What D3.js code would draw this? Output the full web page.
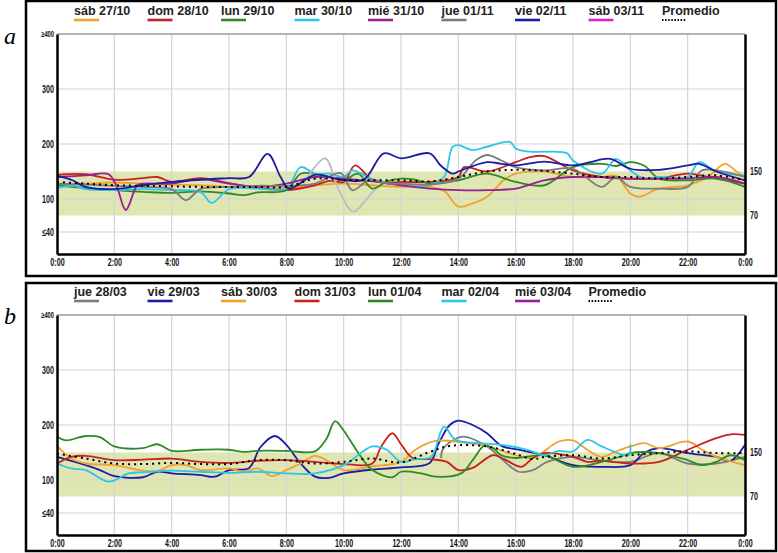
<!DOCTYPE html>
<html><head><meta charset="utf-8">
<script src="https://cdn.jsdelivr.net/npm/d3@7"></script>
<style>
body{margin:0;background:#fff;}
svg{display:block;}
.ax text{font-family:"Liberation Sans",Arial,sans-serif;font-weight:bold;font-size:10.5px;fill:#111;}
.leg{font-family:Arial,"Liberation Sans",sans-serif;font-weight:bold;font-size:12.5px;fill:#222;}
</style></head>
<body>
<svg id="c" width="778" height="553"></svg>
<script>
// ---------- shared axis data ----------
const hourTicks = [0,2,4,6,8,10,12,14,16,18,20,22,24];
const hourLabels = ["0:00","2:00","4:00","6:00","8:00","10:00","12:00","14:00","16:00","18:00","20:00","22:00","0:00"];
const yTicks = [400,300,200,100,40];
const yLabels = ["≥400","300","200","100","≤40"];
const targetRange = [70,150];

// ---------- panel a series ([hour, mg/dL]) ----------
const aNames = ["sáb 27/10","dom 28/10","lun 29/10","mar 30/10","mié 31/10","jue 01/11","vie 02/11","sáb 03/11","Promedio"];
const aColors = ["#f2a12e","#c92020","#2f8a26","#2cc6ea","#961f96","#7c7c7c","#1b1ba6","#de20cf","#000"];
const a_sab2710 = [[0,125],[1,128],[2,130],[3,128],[4,126],[5,125],[6,122],[7,120],[8,120],[9,125],[10,128],[11,125],[12,122],[13,122],[13.5,115],[14,86],[14.5,92],[15,104],[15.6,135],[16,146],[17,150],[18,140],[19,140],[19.5,142],[20,110],[20.3,104],[21,119],[22,125],[22.7,140],[23.3,164],[23.7,150],[24,140]];
const a_dom2810 = [[0,144],[1,145],[2,135],[3,138],[3.5,140],[4,131],[5,138],[6,129],[7,120],[8,116],[9,125],[9.5,133],[10,131],[10.4,161],[11,134],[11.5,130],[12,131],[13,131],[14,140],[14.2,158],[15,150],[16,167],[16.5,176],[17,178],[18,152],[19,140],[20,137],[21,137],[22,146],[23,137],[24,128]];
const a_lun2910 = [[0,125],[1,120],[2,116],[3,113],[4,111],[5,114],[6,110],[6.5,107],[7,112],[8,116],[8.5,146],[9,146],[9.5,140],[10,134],[10.5,146],[11,119],[11.5,132],[12,137],[12.5,135],[13,128],[14,134],[15,146],[16,131],[17,125],[18,158],[19,164],[19.5,160],[20,167],[20.5,160],[21,137],[22,134],[23,137],[24,122]];
const a_mar3010 = [[0,120],[0.6,124],[1,118],[2,116],[3,118],[4,116],[5,113],[5.4,93],[6,118],[7,119],[8,119],[8.5,158],[9,146],[9.5,146],[10,140],[10.3,152],[11,136],[12,125],[13,125],[13.5,140],[13.8,195],[14,198],[14.5,189],[15,195],[15.8,204],[16,192],[16.5,186],[17,186],[17.8,183],[18,170],[19,146],[19.5,173],[20,152],[20.5,137],[21,140],[22,140],[22.4,167],[23,150],[24,143]];
const a_mie3110 = [[0,140],[1,143],[1.8,145],[2.1,120],[2.4,80],[2.8,125],[3,128],[4,128],[5,136],[6,128],[7,122],[8,128],[9,140],[10,137],[11,132],[12,125],[13,119],[14,116],[15,116],[16,119],[17,134],[18,140],[19,140],[20,137],[21,137],[22,137],[23,140],[24,128]];
const a_jue0111 = [[0,128],[1,126],[2,124],[3,122],[4,118],[4.5,98],[5,118],[6,122],[7,124],[8,124],[9,128],[9.9,147],[10.3,116],[10.9,135],[11.5,128],[12,128],[13,126],[14,137],[14.6,170],[15,180],[15.5,170],[16,158],[17,152],[18,155],[19,122],[19.5,140],[20,122],[21,119],[22,122],[22.5,152],[23,152],[24,140]];
const a_jue0111Gap = [[8.6,128],[9.35,174],[9.8,120],[10.33,77],[10.8,100],[11.1,118]];
const a_vie0211 = [[0,142],[0.5,135],[1,122],[2,118],[3,125],[4,131],[5,135],[6,138],[6.7,140],[7.35,182],[7.8,140],[8.1,119],[9,144],[9.9,135],[10.7,135],[11.4,183],[12,174],[13,183],[13.4,160],[13.8,146],[14,150],[15,167],[15.5,164],[16,161],[17,168],[18,161],[18.6,167],[19.3,173],[20,155],[21,153],[22,161],[22.4,164],[23,150],[24,134]];
const a_avg = [[0,131],[1,128],[2,125],[3,124],[4,123],[5,122],[6,122],[7,122],[8,122],[9,137],[10,135],[11,134],[12,134],[13,132],[14,140],[15,150],[16,153],[17,151],[18,146],[19,140],[20,140],[21,137],[22,140],[23,143],[24,134]];

// ---------- panel b series ----------
const bNames = ["jue 28/03","vie 29/03","sáb 30/03","dom 31/03","lun 01/04","mar 02/04","mié 03/04","Promedio"];
const bColors = ["#7c7c7c","#1b1ba6","#f2a12e","#c92020","#2f8a26","#2cc6ea","#961f96","#000"];
const b_jue2803 = [[13.4,140],[13.45,155],[13.8,172],[14.2,179],[15,161],[15.5,139],[16.1,115],[16.6,118],[17.1,133],[18,142],[19,135],[20,133],[21,149],[22,130],[23,130],[24,142]];
const b_vie2903 = [[0,142],[1,127],[1.5,118],[2,107],[3,105],[3.5,115],[4,112],[5,109],[5.5,106],[6,118],[6.7,122],[7.1,160],[7.6,180],[8,164],[8.5,130],[9,106],[9.5,104],[10,112],[11,119],[12,123],[13,131],[13.3,165],[13.7,200],[14,208],[14.5,200],[15,185],[15.5,162],[16,156],[17,145],[18,127],[19,124],[20,127],[20.5,150],[21,158],[22,149],[23,142],[23.5,135],[24,164]];
const b_sab3003 = [[0,162],[0.5,139],[1,130],[2,127],[3,117],[3.5,116],[4,127],[4.5,127],[5,118],[6,121],[6.5,115],[7,121],[7.5,107],[8,118],[8.5,130],[9,144],[9.5,133],[10,118],[11,125],[12,133],[12.5,155],[13.2,171],[14.2,168],[15,162],[16,145],[16.6,140],[17.5,170],[18,172],[18.5,155],[19,142],[19.5,152],[20,161],[20.5,167],[21,158],[22,170],[22.5,155],[23,142],[24,127]];
const b_dom3103 = [[0,130],[0.5,142],[1,144],[2,136],[3,137],[4,139],[5,133],[6,131],[7,135],[8,136],[9,133],[10,129],[11,130],[11.3,160],[11.7,185],[12,165],[12.4,140],[13,138],[13.6,133],[14,118],[14.5,122],[15.2,145],[15.6,138],[16.2,124],[16.6,140],[17,149],[18,142],[18.5,133],[19,135],[20,130],[21,133],[22,155],[23,176],[23.5,183],[24,182]];
const b_lun0104 = [[0,179],[0.3,172],[1,180],[1.5,178],[2,161],[3,158],[3.5,165],[4,153],[5,155],[6,155],[6.5,151],[7,153],[8,153],[9,152],[9.4,175],[9.7,207],[10,190],[10.5,150],[11,118],[11.7,105],[12,115],[12.7,112],[13.2,106],[14.1,112],[14.5,136],[14.9,162],[15.2,158],[15.5,145],[16,140],[17,145],[18,124],[19,133],[19.8,145],[20,149],[21,149],[22,136],[22.5,127],[23,133],[23.5,145],[24,136]];
const b_mar0204 = [[0,130],[0.5,121],[1,118],[1.8,97],[2.5,112],[3,114],[4,117],[5,115],[6,113],[7,115],[8,112],[9,112],[10,127],[11,161],[11.5,155],[12,133],[12.5,138],[13.05,142],[13.5,197],[13.9,173],[14.7,167],[15.5,164],[16.4,155],[17,145],[17.5,153],[18,152],[18.5,173],[19,161],[19.8,145],[19.97,146],[20,165]];
const b_avg = [[0,148],[1,139],[2,130],[3,129],[4,131],[5,129],[6,129],[7,136],[8,136],[9,130],[10,133],[11,139],[12,132],[13,151],[13.7,162],[15,161],[15.9,149],[16.6,138],[17,142],[18,145],[19,139],[20,145],[21,149],[22,152],[23,149],[24,149]];

// ---------- panel definitions ----------
const panels = [
  {letter:"a", box:[26,1,750,275], yRange:[254,34], legendY:15, names:aNames, colors:aColors,
   series:[[a_sab2710,0],[a_dom2810,1],[a_lun2910,2],[a_mar3010,3],[a_mie3110,4],[a_jue0111Gap,-1],[a_jue0111,5],[a_vie0211,6]], avg:a_avg},
  {letter:"b", box:[26,283,750,268], yRange:[535,315], legendY:296, names:bNames, colors:bColors,
   series:[[b_jue2803,0],[b_vie2903,1],[b_sab3003,2],[b_dom3103,3],[b_lun0104,4],[b_mar0204,5]], avg:b_avg}
];

const svg = d3.select("#c");
const x = d3.scaleLinear().domain([0,24]).range([57,745]);

function condense(sel){
  sel.selectAll("text").each(function(){
    const t = d3.select(this);
    const tx = +(t.attr("x")||0);
    t.attr("transform",`translate(${tx},0) scale(0.68,1)`).attr("x",0);
  });
}

panels.forEach(p => {
  const y = d3.scaleLinear().domain([0,400]).range(p.yRange);
  const g = svg.append("g");
  g.append("rect").attr("x",p.box[0]).attr("y",p.box[1]).attr("width",p.box[2]).attr("height",p.box[3])
    .attr("fill","none").attr("stroke","#000").attr("stroke-width",2.5);
  g.append("text").attr("x",4).attr("y",p.letter==="a"?44:324)
    .attr("font-family","'Liberation Serif','DejaVu Serif',serif").attr("font-style","italic")
    .attr("font-size",24).text(p.letter);
  g.append("rect").attr("x",x(0)).attr("width",x(24)-x(0))
    .attr("y",y(targetRange[1])).attr("height",y(targetRange[0])-y(targetRange[1]))
    .attr("fill","#dfe6b2");
  g.append("g").selectAll("line").data(hourTicks.slice(1,-1)).join("line")
    .attr("x1",d=>x(d)).attr("x2",d=>x(d)).attr("y1",y(400)).attr("y2",y(0))
    .attr("stroke","#d4d4d4").attr("stroke-width",1.2);
  g.append("g").selectAll("line").data([300,200,100,40]).join("line")
    .attr("x1",x(0)).attr("x2",x(24)).attr("y1",d=>y(d)).attr("y2",d=>y(d))
    .attr("stroke","#d4d4d4").attr("stroke-width",1.2);
  g.append("line").attr("x1",x(0)).attr("x2",x(24)).attr("y1",y(400)).attr("y2",y(400))
    .attr("stroke","#9a9a9a").attr("stroke-width",1.5);
  const line = d3.line().x(d=>x(d[0])).y(d=>y(d[1])).curve(d3.curveCatmullRom.alpha(0.5));
  p.series.forEach(([data,ci]) => {
    g.append("path").attr("d",line(data)).attr("fill","none")
      .attr("stroke", ci<0 ? "#bdbdbd" : p.colors[ci]).attr("stroke-width",1.8)
      .attr("stroke-linejoin","round");
  });
  g.append("path").attr("d",line(p.avg)).attr("fill","none").attr("stroke","#000")
    .attr("stroke-width",2).attr("stroke-dasharray","2,4");
  const xa = g.append("g").attr("class","ax").attr("transform",`translate(0,${y(0)})`)
    .call(d3.axisBottom(x).tickValues(hourTicks).tickFormat((d,i)=>hourLabels[i]).tickSize(0).tickPadding(5));
  xa.select(".domain").attr("stroke","#000").attr("stroke-width",2.5);
  condense(xa);
  const ya = g.append("g").attr("class","ax").attr("transform",`translate(${x(0)},0)`)
    .call(d3.axisLeft(y).tickValues(yTicks).tickFormat((d,i)=>yLabels[i]).tickSize(0).tickPadding(3));
  ya.select(".domain").attr("stroke","#000").attr("stroke-width",2.5);
  ya.selectAll("text").filter((d,i)=>i===0).style("font-size","8.5px");
  condense(ya);
  const ra = g.append("g").attr("class","ax").attr("transform",`translate(${x(24)},0)`)
    .call(d3.axisRight(y).tickValues([targetRange[1],targetRange[0]]).tickSize(0).tickPadding(5));
  ra.select(".domain").attr("stroke","#000").attr("stroke-width",2.5);
  condense(ra);
  const lg = g.append("g");
  p.names.forEach((n,i) => {
    const lx = 74 + i*73.5;
    lg.append("text").attr("class","leg").attr("x",lx).attr("y",p.legendY).text(n);
    const isAvg = n==="Promedio";
    lg.append("line").attr("x1",lx).attr("x2",lx+(isAvg?24:25)).attr("y1",p.legendY+5).attr("y2",p.legendY+5)
      .attr("stroke",p.colors[i]).attr("stroke-width",isAvg?2:2.6)
      .attr("stroke-dasharray",isAvg?"1.5,1.6":null);
  });
});
</script>
</body></html>
